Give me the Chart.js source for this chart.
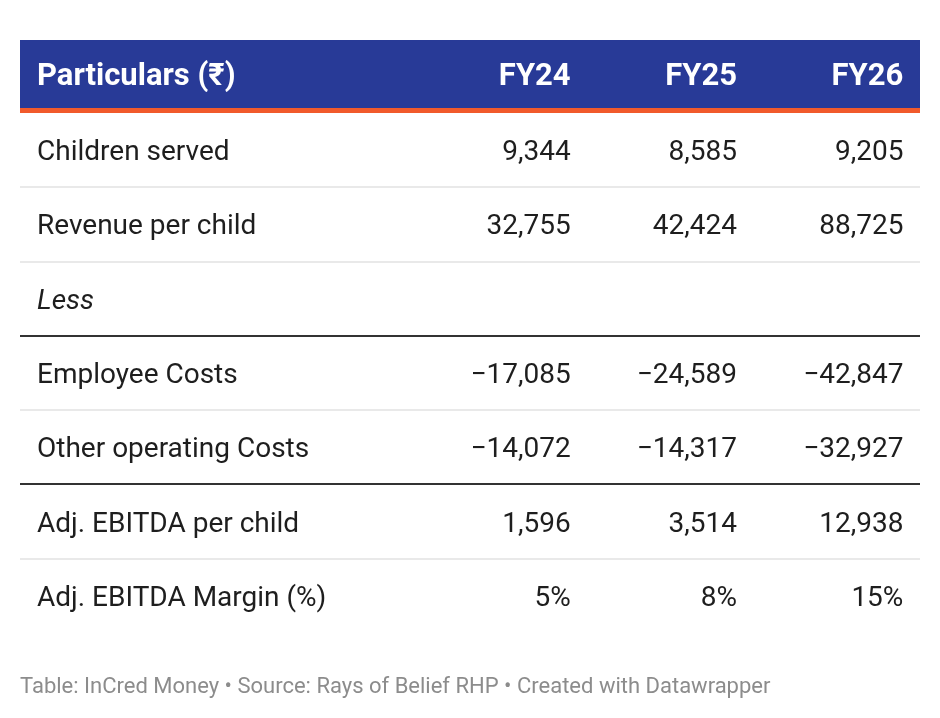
<!DOCTYPE html>
<html>
<head>
<meta charset="utf-8">
<script src="https://cdn.jsdelivr.net/npm/chart.js@4"></script>
<style>
  html, body { margin: 0; padding: 0; background: #fff; }
  #wrap { width: 940px; height: 718px; position: relative; }
</style>
</head>
<body>
<div id="wrap"><canvas id="myTable"></canvas></div>
<script>
const headerLabel = 'Particulars (₹)';
const columns = ['FY24', 'FY25', 'FY26'];
const rowLabels = [
  'Children served',
  'Revenue per child',
  'Less',
  'Employee Costs',
  'Other operating Costs',
  'Adj. EBITDA per child',
  'Adj. EBITDA Margin (%)'
];
const fy24 = [9344, 32755, null, -17085, -14072, 1596, 5];
const fy25 = [8585, 42424, null, -24589, -14317, 3514, 8];
const fy26 = [9205, 88725, null, -42847, -32927, 12938, 15];
const percentRows = ['Adj. EBITDA Margin (%)'];
const italicRows = ['Less'];
const darkRuleAfter = ['Less', 'Other operating Costs'];
const footer = 'Table: InCred Money • Source: Rays of Belief RHP • Created with Datawrapper';

const seriesValues = [fy24, fy25, fy26];

const BLUE = '#283a97';
const ORANGE = '#f15a2b';
const TEXT = '#1e1e1e';
const FONT = 'Roboto, "Noto Sans", sans-serif';

function fmt(v, row) {
  const s = Math.abs(v).toLocaleString('en-US');
  const sign = v < 0 ? '\u2212' : '';
  return sign + s + (percentRows.includes(row) ? '%' : '');
}

const datasets = columns.map((col, c) => ({
  label: col,
  data: rowLabels
    .map((row, r) => ({ x: c + 1, y: row, v: seriesValues[c][r] }))
    .filter(p => p.v !== null),
  pointRadius: 0,
  pointHoverRadius: 0,
  showLine: false
}));

const tablePlugin = {
  id: 'tablePlugin',
  afterDatasetsDraw(chart) {
    const { ctx, chartArea, scales } = chart;
    const yScale = scales.y;
    const left = chartArea.left, right = chartArea.right;
    const band = yScale.getPixelForValue(1) - yScale.getPixelForValue(0);
    ctx.save();

    // header band
    const headTop = 40;
    ctx.fillStyle = BLUE;
    ctx.fillRect(left, headTop, right - left, chartArea.top - 5 - headTop);
    ctx.fillStyle = ORANGE;
    ctx.fillRect(left, chartArea.top - 5, right - left, 5);

    ctx.fillStyle = '#fff';
    ctx.font = 'bold 31px ' + FONT;
    ctx.textBaseline = 'alphabetic';
    ctx.textAlign = 'left';
    ctx.fillText(headerLabel, left + 17, 85);
    ctx.textAlign = 'right';
    chart.data.datasets.forEach((ds, i) => {
      const meta = chart.getDatasetMeta(i);
      ctx.fillText(ds.label, meta.data[0].x, 85);
    });

    // row rules
    rowLabels.forEach((row, r) => {
      if (r === rowLabels.length - 1) return;
      const yb = yScale.getPixelForValue(r) + band / 2;
      const dark = darkRuleAfter.includes(row);
      ctx.fillStyle = dark ? '#333333' : '#e9e9e9';
      ctx.fillRect(left, Math.round(yb) - 1, right - left, 2);
    });

    // row labels
    ctx.fillStyle = TEXT;
    ctx.textAlign = 'left';
    rowLabels.forEach((row, r) => {
      ctx.font = (italicRows.includes(row) ? 'italic ' : '') + '28px ' + FONT;
      ctx.fillText(row, left + 17, yScale.getPixelForValue(r) + 10);
    });

    // values
    ctx.font = '28px ' + FONT;
    ctx.textAlign = 'right';
    chart.data.datasets.forEach((ds, i) => {
      const meta = chart.getDatasetMeta(i);
      meta.data.forEach((pt, j) => {
        const d = ds.data[j];
        ctx.fillText(fmt(d.v, d.y), pt.x, pt.y + 10);
      });
    });

    // footer
    ctx.fillStyle = '#8c8c8c';
    ctx.font = '22px ' + FONT;
    ctx.textAlign = 'left';
    ctx.fillText(footer, left, 693);
    ctx.restore();
  }
};

const tableConfig = {
  type: 'scatter',
  data: { datasets },
  options: {
    responsive: true,
    maintainAspectRatio: false,
    animation: false,
    events: [],
    layout: { padding: { left: 20, right: 20, top: 113, bottom: 85 } },
    scales: {
      x: {
        type: 'linear',
        min: -2.31,
        max: 3.1,
        display: false
      },
      y: {
        type: 'category',
        labels: rowLabels,
        offset: true,
        display: false
      }
    },
    plugins: {
      legend: { display: false },
      tooltip: { enabled: false },
      title: { display: false }
    }
  },
  plugins: [tablePlugin]
};

const myTable = new Chart(document.getElementById('myTable'), tableConfig);
</script>
</body>
</html>
